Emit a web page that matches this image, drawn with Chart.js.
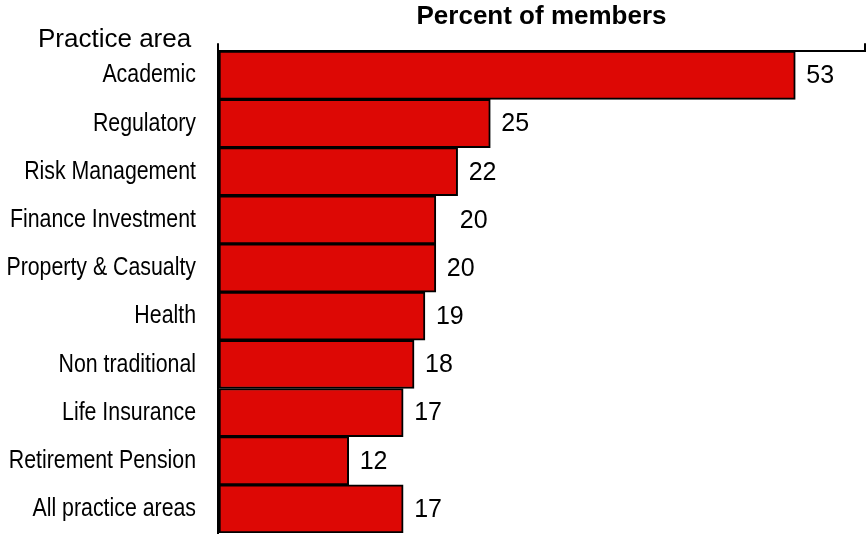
<!DOCTYPE html>
<html>
<head>
<meta charset="utf-8">
<title>Practice area</title>
<script src="https://cdn.jsdelivr.net/npm/chart.js@4/dist/chart.umd.min.js"></script>
<style>
  html, body { margin: 0; padding: 0; background: #fff; }
  canvas { display: block; }
</style>
</head>
<body>
<canvas id="chart" width="867" height="535"></canvas>
<script>
const practiceAreas = [
  "Academic",
  "Regulatory",
  "Risk Management",
  "Finance Investment",
  "Property & Casualty",
  "Health",
  "Non traditional",
  "Life Insurance",
  "Retirement Pension",
  "All practice areas"
];
const percentMembers = [53, 25, 22, 20, 20, 19, 18, 17, 12, 17];
const axisMax = 59.4;

const plainFont = "'Liberation Sans', Arial, sans-serif";

// category names, squeezed horizontally to get an Arial Narrow look
const categoryLabels = {
  id: "categoryLabels",
  afterDraw(chart) {
    const ctx = chart.ctx;
    const yScale = chart.scales.y;
    ctx.save();
    ctx.font = "26px " + plainFont;
    ctx.fillStyle = "#000";
    ctx.textAlign = "right";
    ctx.textBaseline = "middle";
    yScale.ticks.forEach((t, i) => {
      ctx.save();
      ctx.translate(yScale.right - 22, yScale.getPixelForTick(i));
      ctx.scale(0.82, 1);
      ctx.fillText(yScale.getLabelForValue(t.value), 0, 0);
      ctx.restore();
    });
    ctx.restore();
  }
};

// numbers to the right of each bar
const valueLabels = {
  id: "valueLabels",
  afterDatasetsDraw(chart) {
    const ctx = chart.ctx;
    const meta = chart.getDatasetMeta(0);
    ctx.save();
    ctx.font = "25px " + plainFont;
    ctx.fillStyle = "#000";
    ctx.textAlign = "left";
    ctx.textBaseline = "middle";
    meta.data.forEach((bar, i) => {
      const extra = i === 3 ? 13 : 0; // finance label sits a bit further out
      ctx.fillText(String(percentMembers[i]), bar.x + 11 + extra, bar.y + 1);
    });
    ctx.restore();
  }
};

// heading over the category column
const cornerLabel = {
  id: "cornerLabel",
  afterDraw(chart) {
    const ctx = chart.ctx;
    ctx.save();
    ctx.font = "26px " + plainFont;
    ctx.fillStyle = "#000";
    ctx.textAlign = "left";
    ctx.textBaseline = "alphabetic";
    ctx.fillText("Practice area", 38, 47);
    ctx.restore();
  }
};

new Chart(document.getElementById("chart"), {
  type: "bar",
  data: {
    labels: practiceAreas,
    datasets: [{
      data: percentMembers,
      backgroundColor: "#dd0805",
      borderColor: "#000",
      borderWidth: 2,
      borderSkipped: false,
      barPercentage: 1,
      categoryPercentage: 1
    }]
  },
  options: {
    indexAxis: "y",
    responsive: false,
    animation: false,
    layout: { padding: { top: 0, right: 2, bottom: 2, left: 0 } },
    plugins: {
      legend: { display: false },
      tooltip: { enabled: false }
    },
    scales: {
      x: {
        position: "top",
        min: 0,
        max: axisMax,
        afterBuildTicks: s => { s.ticks = [{ value: 0 }, { value: axisMax }]; },
        ticks: { display: false },
        grid: {
          display: true,
          drawOnChartArea: false,
          drawTicks: true,
          tickLength: 8,
          color: "#000",
          lineWidth: 2
        },
        border: { display: true, color: "#000", width: 2 },
        title: {
          display: true,
          text: "Percent of members",
          color: "#000",
          font: { family: plainFont, size: 26, weight: "bold" },
          padding: { top: 1, bottom: 11 }
        }
      },
      y: {
        afterFit: s => { s.width = 218; },
        grid: { display: false, drawTicks: false },
        border: { display: true, color: "#000", width: 2 },
        ticks: { display: false }
      }
    }
  },
  plugins: [valueLabels, categoryLabels, cornerLabel]
});
</script>
</body>
</html>
